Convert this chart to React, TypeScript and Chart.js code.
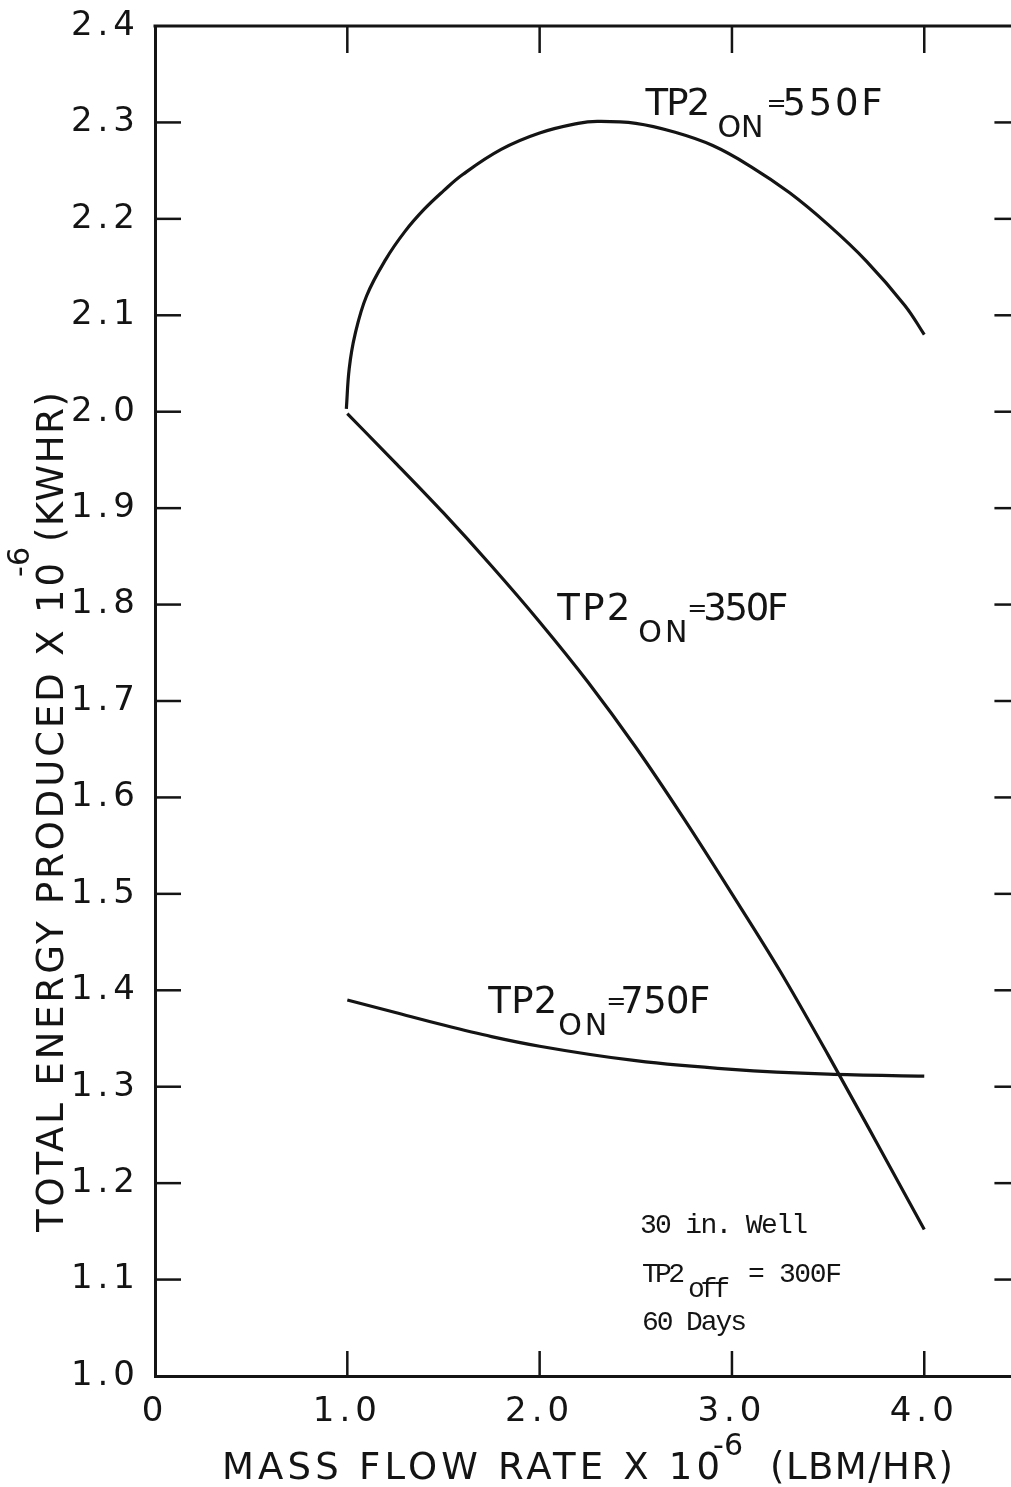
import React, { useEffect, useRef } from "react";
import { Chart, registerables } from "chart.js";

Chart.register(...registerables);

// ---------- data ----------
const X_TICKS = [0, 1, 2, 3, 4];
const X_TICK_LABELS = ["0", "1.0", "2.0", "3.0", "4.0"];
const Y_TICKS = [1.0, 1.1, 1.2, 1.3, 1.4, 1.5, 1.6, 1.7, 1.8, 1.9, 2.0, 2.1, 2.2, 2.3, 2.4];
const X_MIN = 0;
const X_MAX = 4.451; // visible right edge of the scan
const X_FRAME = 4.5; // true right edge of the frame (off the page)
const Y_MIN = 1.0;
const Y_MAX = 2.4;

const FLOW_550 = [0.995, 1.01, 1.04, 1.1, 1.2, 1.3, 1.4, 1.5, 1.6, 1.8, 2.0, 2.2, 2.3, 2.5, 2.7, 2.9, 3.1, 3.3, 3.5, 3.7, 3.9, 4.0];
const ENERGY_550 = [2.003, 2.045, 2.08, 2.12, 2.158, 2.187, 2.21, 2.229, 2.246, 2.272, 2.289, 2.299, 2.301, 2.299, 2.29, 2.276, 2.254, 2.227, 2.194, 2.156, 2.11, 2.08];

const FLOW_350 = [1.0, 1.25, 1.5, 1.75, 2.0, 2.25, 2.5, 2.75, 3.0, 3.25, 3.5, 3.75, 4.0];
const ENERGY_350 = [1.998, 1.947, 1.895, 1.84, 1.782, 1.72, 1.652, 1.578, 1.5, 1.42, 1.333, 1.243, 1.152];

const FLOW_750 = [1.0, 1.25, 1.5, 1.75, 2.0, 2.5, 3.0, 3.5, 4.0];
const ENERGY_750 = [1.39, 1.377, 1.364, 1.352, 1.342, 1.327, 1.318, 1.313, 1.311];

const CURVE_LABELS = ["550F", "350F", "750F"];
const LABEL_X = [2.55, 2.092, 1.733];
const LABEL_Y = [2.308, 1.784, 1.3765];

const INK = "#141414";
const SANS = '"DejaVu Sans", "Liberation Sans", sans-serif';
const MONO = '"Liberation Mono", "DejaVu Sans Mono", monospace';

function spaced(ctx: CanvasRenderingContext2D, text: string, x: number, y: number, width: number, font: string) {
  ctx.font = font;
  (ctx as any).letterSpacing = "0px";
  const w = ctx.measureText(text).width;
  const n = Array.from(text).length;
  const ls = n > 1 ? (width - w) / (n - 1) : 0;
  (ctx as any).letterSpacing = ls.toFixed(2) + "px";
  ctx.fillText(text, x, y);
  (ctx as any).letterSpacing = "0px";
}

const framePlugin = {
  id: "frame",
  beforeDraw(chart: any) {
    (chart.ctx as any).letterSpacing = "5px";
  },
  afterDraw(chart: any) {
    const { ctx, chartArea: a, scales } = chart;
    const xs = scales.x;
    const ys = scales.y;
    ctx.save();
    (ctx as any).letterSpacing = "0px";
    ctx.strokeStyle = INK;
    ctx.fillStyle = INK;
    ctx.lineWidth = 3;
    ctx.lineCap = "butt";
    const xr = xs.getPixelForValue(X_FRAME);
    const seg = (x1: number, y1: number, x2: number, y2: number) => {
      ctx.beginPath();
      ctx.moveTo(x1, y1);
      ctx.lineTo(x2, y2);
      ctx.stroke();
    };
    // top and right frame
    seg(a.left - 1.5, a.top, xr, a.top);
    seg(xr, a.top, xr, a.bottom);
    ctx.lineWidth = 2.5;
    // x ticks (top & bottom, inward)
    X_TICKS.forEach((v) => {
      if (v === X_MIN) return;
      const px = xs.getPixelForValue(v);
      seg(px, a.top, px, a.top + 27);
      seg(px, a.bottom, px, a.bottom - 25);
    });
    // y ticks (left & right, inward)
    Y_TICKS.forEach((v) => {
      if (v === Y_MIN || v === Y_MAX) return;
      const py = ys.getPixelForValue(v);
      seg(a.left, py, a.left + 26, py);
      seg(xr - 26, py, xr, py);
    });

    ctx.textAlign = "left";
    ctx.textBaseline = "alphabetic";

    // x axis title
    spaced(ctx, "MASS FLOW RATE X 10", 222, 1479, 498, `37px ${SANS}`);
    spaced(ctx, "-6", 713, 1455, 30, `30px ${SANS}`);
    spaced(ctx, "(LBM/HR)", 770, 1479, 183, `37px ${SANS}`);

    // y axis title (rotated)
    ctx.save();
    ctx.translate(63, 1232);
    ctx.rotate(-Math.PI / 2);
    spaced(ctx, "TOTAL ENERGY PRODUCED X 10", 0, 0, 669, `37px ${SANS}`);
    spaced(ctx, "-6", 655, -34, 30, `30px ${SANS}`);
    spaced(ctx, "(KWHR)", 690, 0, 150, `37px ${SANS}`);
    ctx.restore();

    // curve labels
    const tpW = [65, 73, 69];
    const onW = [46, 49, 49];
    const valW = [100, 85, 90];
    const offs = [
      [72, 121, 137],
      [81, 130, 146],
      [70, 118, 132],
    ];
    CURVE_LABELS.forEach((lab, i) => {
      const px = xs.getPixelForValue(LABEL_X[i]);
      const py = ys.getPixelForValue(LABEL_Y[i]);
      spaced(ctx, "TP2", px, py, tpW[i], `37px ${SANS}`);
      spaced(ctx, "ON", px + offs[i][0], py + 22, onW[i], `30px ${SANS}`);
      ctx.font = `24px ${SANS}`;
      ctx.fillText("=", px + offs[i][1], py - 4);
      spaced(ctx, lab, px + offs[i][2], py, valW[i], `37px ${SANS}`);
    });

    // note block
    spaced(ctx, "30 in. Well", 640, 1233, 168, `28px ${MONO}`);
    spaced(ctx, "TP2", 642, 1282, 43, `28px ${MONO}`);
    spaced(ctx, "off", 688, 1297, 42, `28px ${MONO}`);
    spaced(ctx, "= 300F", 748, 1282, 94, `28px ${MONO}`);
    spaced(ctx, "60 Days", 642, 1330, 105, `28px ${MONO}`);

    ctx.restore();
  },
};

function series(xv: number[], yv: number[], smooth: "monotone" | "tension") {
  return {
    data: xv.map((x, i) => ({ x, y: yv[i] })),
    borderColor: INK,
    borderWidth: 3.2,
    pointRadius: 0,
    fill: false,
    ...(smooth === "monotone" ? { cubicInterpolationMode: "monotone" as const } : { tension: 0.4 }),
  };
}

const zeroPad = (s: any) => {
  s.paddingTop = 0;
  s.paddingBottom = 0;
  s.paddingLeft = 0;
  s.paddingRight = 0;
};

export default function App() {
  const ref = useRef<HTMLCanvasElement | null>(null);
  useEffect(() => {
    if (!ref.current) return;
    const chart = new Chart(ref.current, {
      type: "line",
      data: {
        datasets: [
          series(FLOW_550, ENERGY_550, "tension"),
          series(FLOW_350, ENERGY_350, "monotone"),
          series(FLOW_750, ENERGY_750, "monotone"),
        ],
      },
      options: {
        animation: false,
        responsive: false,
        events: [],
        layout: { padding: { top: 26, right: 0, bottom: 0, left: 0 } },
        plugins: { legend: { display: false }, tooltip: { enabled: false } },
        scales: {
          x: {
            type: "linear",
            min: X_MIN,
            max: X_MAX,
            afterBuildTicks: (s: any) => {
              s.ticks = X_TICKS.map((v) => ({ value: v }));
            },
            afterFit: (s: any) => {
              s.height = 111;
              zeroPad(s);
            },
            ticks: {
              autoSkip: false,
              maxRotation: 0,
              padding: 16,
              color: INK,
              font: { family: SANS, size: 34 },
              callback: (v: any) => X_TICK_LABELS[X_TICKS.indexOf(Number(v))] ?? "",
            },
            grid: { display: false, drawTicks: false },
            border: { display: true, color: INK, width: 3 },
          },
          y: {
            type: "linear",
            min: Y_MIN,
            max: Y_MAX,
            afterBuildTicks: (s: any) => {
              s.ticks = Y_TICKS.map((v) => ({ value: v }));
            },
            afterFit: (s: any) => {
              s.width = 155;
              zeroPad(s);
            },
            ticks: {
              autoSkip: false,
              padding: 15,
              color: INK,
              font: { family: SANS, size: 34 },
              callback: (v: any) => Number(v).toFixed(1),
            },
            grid: { display: false, drawTicks: false },
            border: { display: true, color: INK, width: 3 },
          },
        },
      },
      plugins: [framePlugin],
    });
    return () => chart.destroy();
  }, []);
  return (
    <div style={{ position: "absolute", left: 0, top: 0, width: 1011, height: 1487, background: "#fff", overflow: "hidden" }}>
      <canvas ref={ref} width={1011} height={1487} style={{ display: "block" }} />
    </div>
  );
}
